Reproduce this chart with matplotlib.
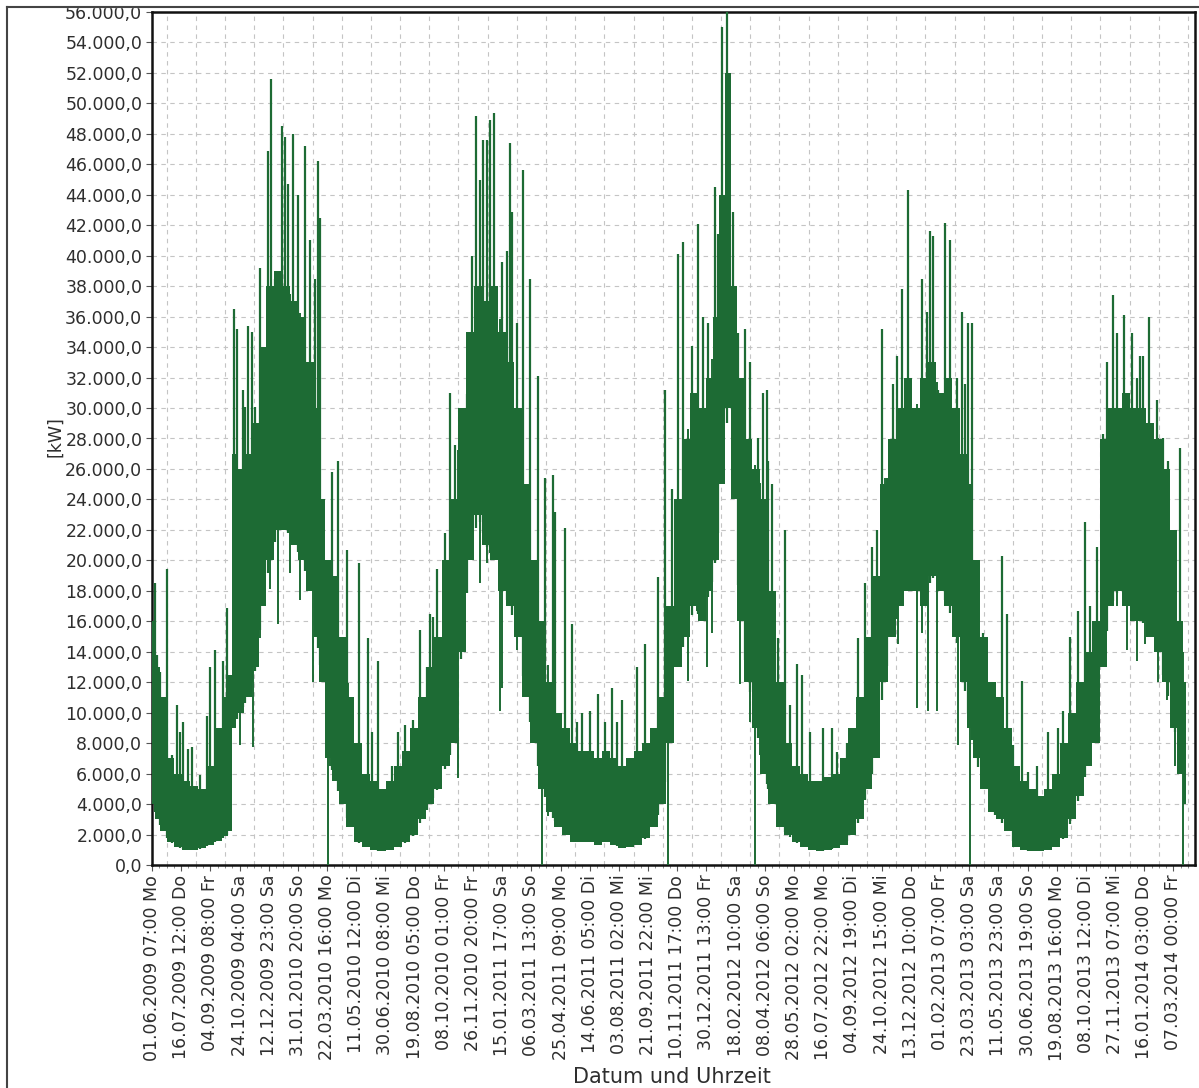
import numpy as np
import matplotlib
matplotlib.use('Agg')
import matplotlib.pyplot as plt
from matplotlib.lines import Line2D
from matplotlib.patches import Rectangle

# Labels on the time axis, one every 1196 hours starting 01.06.2009 07:00
tickLabels = [
    '01.06.2009 07:00 Mo', '16.07.2009 12:00 Do', '04.09.2009 08:00 Fr',
    '24.10.2009 04:00 Sa', '12.12.2009 23:00 Sa', '31.01.2010 20:00 So',
    '22.03.2010 16:00 Mo', '11.05.2010 12:00 Di', '30.06.2010 08:00 Mi',
    '19.08.2010 05:00 Do', '08.10.2010 01:00 Fr', '26.11.2010 20:00 Fr',
    '15.01.2011 17:00 Sa', '06.03.2011 13:00 So', '25.04.2011 09:00 Mo',
    '14.06.2011 05:00 Di', '03.08.2011 02:00 Mi', '21.09.2011 22:00 Mi',
    '10.11.2011 17:00 Do', '30.12.2011 13:00 Fr', '18.02.2012 10:00 Sa',
    '08.04.2012 06:00 So', '28.05.2012 02:00 Mo', '16.07.2012 22:00 Mo',
    '04.09.2012 19:00 Di', '24.10.2012 15:00 Mi', '13.12.2012 10:00 Do',
    '01.02.2013 07:00 Fr', '23.03.2013 03:00 Sa', '11.05.2013 23:00 Sa',
    '30.06.2013 19:00 So', '19.08.2013 16:00 Mo', '08.10.2013 12:00 Di',
    '27.11.2013 07:00 Mi', '16.01.2014 03:00 Do', '07.03.2014 00:00 Fr',
]
tickStep = 1196 / 24.0   # days between two labels
axisEnd = 1781           # last day shown

# Dense band of the hourly load: days since 01.06.2009, lower / upper edge in kW
bandDays = [0, 10, 19, 31, 44, 58, 72, 85, 99, 113, 126, 135, 138, 150, 164,
            178, 188, 202, 215, 229, 243, 256, 270, 282, 290, 301, 313, 325,
            338, 352, 366, 379, 393, 406, 420, 434, 448, 461, 475, 488, 502,
            516, 529, 543, 557, 570, 584, 598, 611, 625, 639, 652, 666, 680,
            693, 707, 721, 734, 748, 762, 775, 789, 803, 816, 830, 844, 857,
            871, 885, 898, 912, 926, 939, 953, 963, 974, 984, 994, 1004, 1018,
            1032, 1045, 1059, 1073, 1086, 1100, 1114, 1127, 1141, 1155, 1168,
            1182, 1196, 1209, 1223, 1237, 1250, 1264, 1278, 1291, 1305, 1319,
            1332, 1346, 1360, 1373, 1387, 1397, 1407, 1421, 1435, 1448, 1462,
            1476, 1489, 1503, 1517, 1530, 1544, 1558, 1571, 1585, 1599, 1612,
            1624, 1636, 1650, 1664, 1677, 1691, 1705, 1718, 1730, 1746, 1756,
            1766]
bandLow = [4000, 3000, 2200, 1500, 1200, 1000, 1000, 1100, 1300, 1600, 1900,
           2200, 9000, 10000, 11000, 13000, 17000, 20000, 22000, 22000, 21000,
           20000, 18000, 15000, 12000, 7000, 5500, 4000, 2500, 1500, 1200,
           1000, 900, 1000, 1200, 1500, 2000, 3000, 4000, 5000, 6500, 8000,
           14000, 20000, 23000, 21000, 20000, 18000, 17000, 15000, 11000,
           8000, 5000, 3500, 2500, 2000, 1500, 1500, 1500, 1300, 1500, 1300,
           1100, 1200, 1300, 1800, 2500, 4000, 8000, 13000, 15000, 17000,
           16000, 18000, 20000, 25000, 30000, 24000, 16000, 12000, 9000, 6000,
           4000, 2500, 2000, 1500, 1200, 1000, 900, 1000, 1100, 1300, 2000,
           3000, 5000, 7000, 12000, 15000, 17000, 18000, 18000, 17000, 19000,
           18000, 17000, 15000, 12000, 9000, 7000, 5000, 3500, 3000, 2200,
           1200, 1000, 900, 900, 1000, 1200, 1800, 3000, 4500, 6500, 8000,
           13000, 17000, 18000, 17000, 16000, 16000, 15000, 14000, 12000, 9000,
           6000, 4000]
bandHigh = [16000, 13000, 11000, 7000, 6000, 5500, 5200, 5000, 6500, 9000,
            11000, 12500, 27000, 26000, 27000, 29000, 34000, 38000, 39000,
            38000, 37000, 36000, 33000, 30000, 24000, 20000, 19000, 15000,
            11000, 8000, 6000, 5500, 5000, 5500, 6500, 7500, 9000, 11000,
            13000, 15000, 20000, 24000, 30000, 35000, 38000, 37000, 38000,
            35000, 33000, 30000, 25000, 20000, 16000, 12000, 10000, 9000, 8000,
            7500, 7500, 7000, 7500, 7000, 6500, 7000, 7500, 8000, 9000, 11000,
            17000, 24000, 28000, 31000, 30000, 32000, 36000, 44000, 52000,
            38000, 32000, 28000, 26000, 24000, 18000, 12000, 8000, 6500, 6000,
            5500, 5500, 5800, 6000, 7000, 9000, 11000, 15000, 19000, 25000,
            28000, 30000, 32000, 30000, 32000, 33000, 31000, 32000, 30000,
            27000, 25000, 20000, 15000, 12000, 11000, 9000, 6500, 5500, 5000,
            4500, 5000, 6000, 8000, 10000, 12000, 14000, 16000, 28000, 30000,
            30000, 31000, 30000, 30000, 29000, 28000, 26000, 22000, 16000,
            12000]

# Single hours reaching above the band
peakDays = [5, 9, 14, 26, 34, 43, 48, 53, 62, 68, 82, 94, 99, 108, 121, 128,
            140, 145, 155, 159, 164, 171, 176, 184, 190, 198, 203, 210, 222,
            227, 232, 241, 249, 261, 270, 278, 284, 287, 307, 318, 333, 354,
            369, 376, 386, 410, 420, 432, 446, 458, 470, 475, 480, 487, 500,
            509, 518, 528, 538, 546, 553, 560, 565, 572, 577, 584, 598, 606,
            611, 615, 623, 634, 646, 659, 671, 685, 688, 705, 717, 726, 734,
            748, 762, 774, 786, 794, 803, 828, 842, 864, 876, 888, 898, 907,
            922, 933, 941, 950, 956, 962, 967, 974, 982, 992, 1001, 1013, 1021,
            1035, 1044, 1050, 1052, 1059, 1069, 1081, 1090, 1102, 1110, 1124,
            1146, 1161, 1170, 1187, 1206, 1218, 1230, 1238, 1247, 1255, 1266,
            1272, 1281, 1291, 1298, 1315, 1324, 1329, 1334, 1343, 1354, 1363,
            1375, 1383, 1389, 1394, 1401, 1411, 1419, 1431, 1440, 1452, 1460,
            1471, 1486, 1496, 1511, 1530, 1547, 1556, 1568, 1582, 1594, 1602,
            1614, 1624, 1631, 1641, 1648, 1660, 1674, 1682, 1687, 1693, 1703,
            1716, 1727, 1735, 1747, 1756]
peakValues = [18500, 13800, 12700, 19400, 7200, 10500, 8700, 9400, 7600, 7750,
              5900, 9750, 13000, 14100, 13400, 16850, 36500, 35200, 31200,
              30100, 35400, 35000, 30100, 39200, 33400, 46900, 51600, 38500,
              48500, 47800, 44700, 48000, 44000, 47200, 41000, 38500, 46200,
              42500, 25800, 26500, 20700, 19800, 14900, 8700, 13400, 6500,
              8700, 9200, 9500, 15400, 13000, 16500, 16300, 19400, 21800,
              31000, 27600, 29200, 30900, 40000, 49200, 45000, 47600, 47600,
              48900, 49400, 39600, 40300, 47400, 42900, 35600, 45600, 38500,
              32100, 25400, 25600, 23200, 22100, 15800, 9400, 10000, 10100,
              11200, 9400, 11600, 9400, 10800, 13000, 14500, 18900, 31200,
              24700, 40100, 40900, 34100, 42100, 36000, 35600, 31200, 44500,
              41400, 55000, 56000, 42900, 34900, 35200, 33000, 28000, 31000,
              31200, 26500, 25000, 14900, 22000, 10500, 13200, 12500, 8700,
              9000, 9000, 7400, 8000, 14900, 18500, 20900, 22000, 35200, 25400,
              31600, 33400, 37800, 44300, 26900, 38500, 36300, 41600, 41300,
              31200, 42150, 41000, 32000, 36300, 31600, 35600, 35600, 13800,
              15200, 12000, 10500, 20300, 16500, 7900, 12100, 6100, 6500, 8700,
              9000, 10100, 15000, 16700, 22500, 17000, 20900, 28300, 33000,
              37400, 34900, 36100, 34900, 32000, 33400, 33400, 36000, 30500,
              28000, 26500, 18500, 27400]

# Single hours falling below the band (0 kW at the clock changes)
dropDays = [150, 173, 184, 202, 215, 236, 253, 275, 301, 304, 335, 523, 560,
            572, 594, 598, 611, 623, 632, 654, 666, 676, 881, 897, 915, 931,
            948, 956, 1004, 1021, 1030, 1038, 1050, 1252, 1274, 1307, 1315,
            1325, 1341, 1377, 1397, 1648, 1665, 1682, 1696, 1718, 1733, 1747,
            1761]
dropValues = [7900, 7750, 14900, 18100, 15800, 19200, 17400, 12000, 0, 6500,
              2800, 5700, 18500, 19800, 10100, 11600, 20300, 14100, 16300,
              11600, 0, 3200, 0, 13000, 12100, 16700, 13000, 15200, 11900, 9400,
              0, 7200, 6500, 13000, 14500, 10300, 15200, 10100, 10100, 7900, 0,
              17000, 14100, 13400, 14500, 12000, 10800, 6500, 0]

green = '#1d6b34'
textColor = '#2e2e2e'

fig = plt.figure(figsize=(11.99, 10.88), dpi=100)
ax = fig.add_axes([152 / 1199, 1 - 865 / 1088, 1043 / 1199, 853 / 1088])

# Load band and its single peaks / drops
ax.fill_between(bandDays, bandLow, bandHigh, step='mid', color=green,
                lw=0, zorder=3)
peakBase = np.interp(peakDays, bandDays, bandLow)
ax.vlines(peakDays, peakBase, peakValues, color=green, lw=1.6, zorder=3)
dropTop = np.interp(dropDays, bandDays, bandHigh)
ax.vlines(dropDays, dropValues, dropTop, color=green, lw=1.4, zorder=3)

# Axes ranges and ticks
ax.set_xlim(0, axisEnd)
ax.set_ylim(0, 56000)
yTicks = np.arange(0, 56001, 2000)
ax.set_yticks(yTicks)
ax.set_yticklabels([f'{v:,.1f}'.replace(',', 'X').replace('.', ',').replace('X', '.')
                    for v in yTicks])
xTicks = np.arange(len(tickLabels)) * tickStep
ax.set_xticks(xTicks)
ax.set_xticklabels(tickLabels, rotation=90)
ax.set_xticks(np.arange(0, axisEnd, tickStep / 4), minor=True)

ax.tick_params(axis='both', which='major', labelsize=12.5, colors='#555555',
               labelcolor=textColor, length=4, width=0.8)
ax.tick_params(axis='x', which='minor', length=2.5, width=0.6, colors='#777777')
ax.tick_params(axis='x', pad=3)
ax.tick_params(axis='y', pad=3)

# Dashed grid: horizontal at every tick, vertical halfway between labels
ax.yaxis.grid(True, color='#c4c4c4', lw=0.8, ls=(0, (4, 4)), zorder=1)
for k in range(len(tickLabels)):
    ax.axvline((k + 0.5) * tickStep, color='#c4c4c4', lw=0.8,
               ls=(0, (4, 4)), zorder=1)
ax.set_axisbelow(True)

for side in ['left', 'bottom', 'top', 'right']:
    ax.spines[side].set_color('#111111')
    ax.spines[side].set_linewidth(1.8)

fig.text(55 / 1199, 1 - 437 / 1088, '[kW]', rotation=90, ha='center',
         va='center', fontsize=12.5, color=textColor)
fig.text(672 / 1199, 1 - 1077 / 1088, 'Datum und Uhrzeit', ha='center',
         va='center', fontsize=15, color=textColor)

# Outer frame of the window, cutting the topmost label
fig.add_artist(Rectangle((0, 1 - 7 / 1088), 1, 7 / 1088,
                         transform=fig.transFigure, color='white', zorder=10))
fig.add_artist(Line2D([7 / 1199, 1], [1 - 7 / 1088, 1 - 7 / 1088],
                      transform=fig.transFigure, color='#444444', lw=1.5,
                      zorder=11))
fig.add_artist(Line2D([7 / 1199, 7 / 1199], [0, 1 - 7 / 1088],
                      transform=fig.transFigure, color='#444444', lw=1.5,
                      zorder=11))

fig.savefig('out.png', dpi=100)
